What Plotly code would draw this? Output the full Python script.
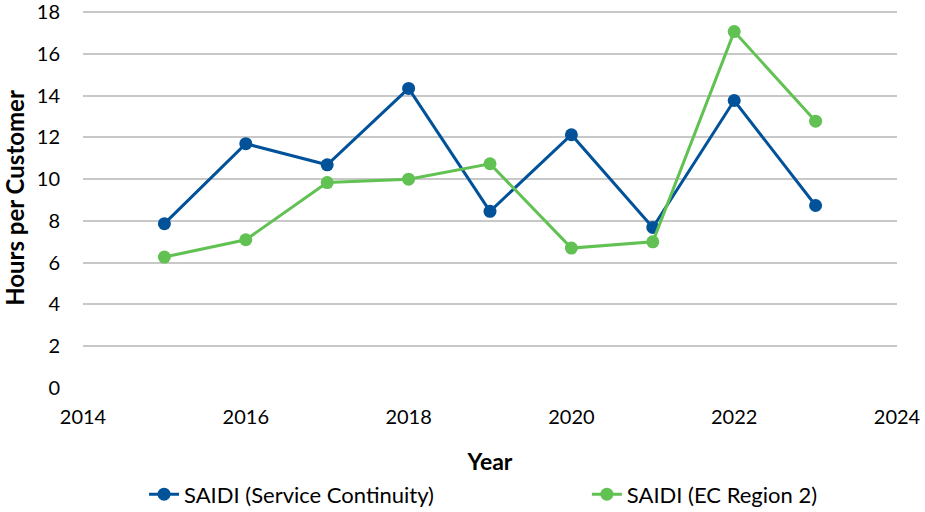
import plotly.graph_objects as go

years = [2015, 2016, 2017, 2018, 2019, 2020, 2021, 2022, 2023]
saidi_service = [7.87, 11.7, 10.69, 14.35, 8.46, 12.13, 7.69, 13.77, 8.74]
saidi_ec_region2 = [6.27, 7.1, 9.84, 10.0, 10.74, 6.7, 7.0, 17.07, 12.78]

BLUE = "#02529A"
GREEN = "#62C153"
FONT = "Lato"

fig = go.Figure()

fig.add_trace(go.Scatter(
    x=years, y=saidi_service,
    name="SAIDI (Service Continuity)",
    mode="lines+markers",
    line=dict(color=BLUE, width=3),
    marker=dict(color=BLUE, size=13),
    legend="legend",
))

fig.add_trace(go.Scatter(
    x=years, y=saidi_ec_region2,
    name="SAIDI (EC Region 2)",
    mode="lines+markers",
    line=dict(color=GREEN, width=3),
    marker=dict(color=GREEN, size=13),
    legend="legend2",
))

# one legend per series so the two entries can sit far apart like the original
fig.update_layout(
    width=925, height=512,
    margin=dict(l=83, r=28, t=8, b=124, autoexpand=False),
    plot_bgcolor="white",
    paper_bgcolor="white",
    font=dict(family=FONT, size=20, color="black"),
    showlegend=True,
    legend=dict(
        orientation="h",
        x=0.075, xanchor="left",
        y=-0.28, yanchor="middle",
        font=dict(size=22),
    ),
    legend2=dict(
        orientation="h",
        x=0.619, xanchor="left",
        y=-0.28, yanchor="middle",
        font=dict(size=22),
    ),
)

fig.update_xaxes(
    range=[2014, 2024],
    dtick=2,
    showgrid=False,
    zeroline=False,
    showline=False,
    ticks="",
    automargin=False,
    ticklabelstandoff=15,
    title=dict(text="<b>Year</b>", font=dict(size=23), standoff=26),
)

# a little headroom above 18 so its gridline and label are kept
fig.update_yaxes(
    range=[0, 18.2],
    tickvals=[0, 2, 4, 6, 8, 10, 12, 14, 16, 18],
    showgrid=True,
    gridcolor="#C8C8C8",
    gridwidth=1.5,
    zeroline=False,
    showline=False,
    ticks="",
    automargin=False,
    ticklabeloverflow="allow",
    ticklabelstandoff=22,
    title=dict(text="<b>Hours per Customer</b>", font=dict(size=24), standoff=12),
)

fig.write_html("out.html", config={"displayModeBar": False},
               post_script="document.body.style.margin = '0';")
